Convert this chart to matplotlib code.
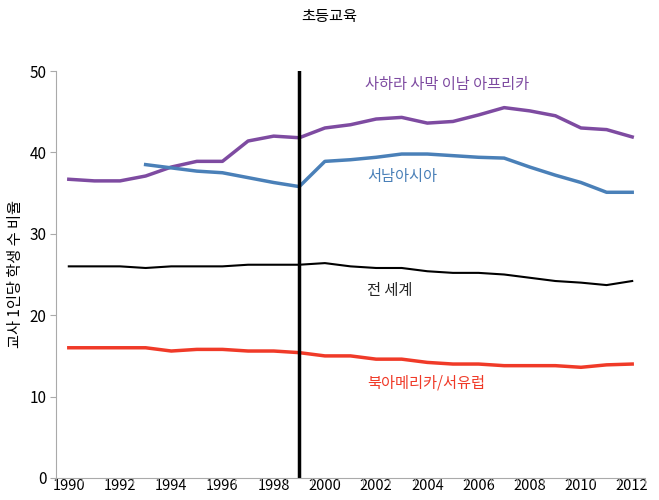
import numpy as np
import matplotlib.pyplot as plt

plt.rcParams['font.family'] = ['Noto Sans CJK KR', 'DejaVu Sans']

years = list(range(1990, 2013))
ssa = [36.7, 36.5, 36.5, 37.1, 38.2, 38.9, 38.9, 41.4, 42.0, 41.8, 43.0, 43.4,
       44.1, 44.3, 43.6, 43.8, 44.6, 45.5, 45.1, 44.5, 43.0, 42.8, 41.9]
sw_asia_years = list(range(1993, 2013))
sw_asia = [38.5, 38.1, 37.7, 37.5, 36.9, 36.3, 35.8, 38.9, 39.1, 39.4, 39.8, 39.8,
           39.6, 39.4, 39.3, 38.2, 37.2, 36.3, 35.1, 35.1]
world = [26.0, 26.0, 26.0, 25.8, 26.0, 26.0, 26.0, 26.2, 26.2, 26.2, 26.4, 26.0,
         25.8, 25.8, 25.4, 25.2, 25.2, 25.0, 24.6, 24.2, 24.0, 23.7, 24.2]
na_we = [16.0, 16.0, 16.0, 16.0, 15.6, 15.8, 15.8, 15.6, 15.6, 15.4, 15.0, 15.0,
         14.6, 14.6, 14.2, 14.0, 14.0, 13.8, 13.8, 13.8, 13.6, 13.9, 14.0]
marker_year = 1999

purple = '#7e4ba1'
blue = '#4a80b8'
red = '#f03a28'

fig = plt.figure(figsize=(6.59, 5), dpi=100)
ax = fig.add_axes([56 / 659, 22 / 500, 589 / 659, 407 / 500])

ax.plot(years, ssa, color=purple, lw=2.5)
ax.plot(sw_asia_years, sw_asia, color=blue, lw=2.5)
ax.plot(years, world, color='black', lw=1.5)
ax.plot(years, na_we, color=red, lw=2.5)
ax.axvline(marker_year, color='black', lw=2.5)

ax.text(2001.55, 48.4, '사하라 사막 이남 아프리카', color=purple, fontsize=11, va='center')
ax.text(2001.65, 37.0, '서남아시아', color=blue, fontsize=11, va='center')
ax.text(2001.65, 23.0, '전 세계', color='#222222', fontsize=11, va='center')
ax.text(2001.65, 11.7, '북아메리카/서유럽', color=red, fontsize=11, va='center')

ax.set_xlim(1989.5, 2012.5)
ax.set_ylim(0, 50)
ax.set_xticks(years[::2])
ax.set_xticklabels([str(y) for y in years[::2]])
ax.set_xticks(np.arange(1989.5, 2013), minor=True)
ax.tick_params(axis='x', which='major', length=0, pad=1, labelsize=10.5)
ax.tick_params(axis='x', which='minor', length=5, color='#aaaaaa')
ax.set_yticks([0, 10, 20, 30, 40, 50])
ax.tick_params(axis='y', length=4, color='#aaaaaa', labelsize=11, pad=3)

for s in ['top', 'right']:
    ax.spines[s].set_visible(False)
for s in ['left', 'bottom']:
    ax.spines[s].set_color('#aaaaaa')

ax.set_ylabel('교사 1인당 학생 수 비율', fontsize=11, labelpad=4)
fig.text(0.5, 0.968, '초등교육', ha='center', va='center', fontsize=11)

fig.savefig('out.png', dpi=100)
